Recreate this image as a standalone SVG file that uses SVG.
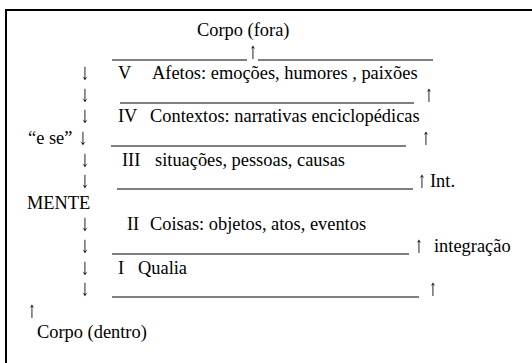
<svg xmlns="http://www.w3.org/2000/svg" width="532" height="363" viewBox="0 0 532 363" font-family="'Liberation Serif', 'Times New Roman', 'DejaVu Serif', serif">
<style>
text{font-family:'Liberation Serif','Times New Roman','DejaVu Serif',serif;font-size:18.4px;fill:#000}
.arr{text-anchor:middle;dominant-baseline:central;font-family:'DejaVu Serif',serif;font-size:14px}
.sep{stroke:#000;stroke-width:1}
.frame{stroke:#000;stroke-width:2;fill:none}
</style>
<rect width="532" height="363" fill="#fff"/>
<g id="frame">
<path class="frame" d="M6 363 V10 H532"/>
</g>
<g id="corpo-fora"><text x="197" y="36">Corpo (fora)</text></g>
<g id="level-V"><text x="118" y="79.2">V</text><text x="152" y="79.2">Afetos: emoções, humores , paixões</text></g>
<g id="level-IV"><text x="118" y="122.4">IV</text><text x="150" y="122.4">Contextos: narrativas enciclopédicas</text></g>
<g id="e-se"><text x="28" y="144">“e se”</text></g>
<g id="level-III"><text x="122" y="165.6">III</text><text x="155" y="165.6">situações, pessoas, causas</text></g>
<g id="int"><text x="430" y="187.2">Int.</text></g>
<g id="mente"><text x="27" y="208.8">MENTE</text></g>
<g id="level-II"><text x="127" y="230.4">II</text><text x="150" y="230.4">Coisas: objetos, atos, eventos</text></g>
<g id="integracao"><text x="434" y="252">integração</text></g>
<g id="level-I"><text x="118" y="273.6">I</text><text x="138" y="273.6">Qualia</text></g>
<g id="corpo-dentro"><text x="37" y="338.4">Corpo (dentro)</text></g>
<g id="separators">
<line class="sep" x1="112" y1="60" x2="247" y2="60"/>
<line class="sep" x1="258" y1="60" x2="433" y2="60"/>
<line class="sep" x1="120" y1="103" x2="414" y2="103"/>
<line class="sep" x1="111" y1="146" x2="406" y2="146"/>
<line class="sep" x1="117" y1="189" x2="413" y2="189"/>
<line class="sep" x1="112" y1="254" x2="409" y2="254"/>
<line class="sep" x1="112" y1="297" x2="419" y2="297"/>
</g>
<g id="connectors" opacity="0.99">
<text class="arr" transform="translate(85,74.2) scale(0.8,1.3)">&#x2193;&#xFE0E;</text>
<text class="arr" transform="translate(85,95.8) scale(0.8,1.3)">&#x2193;&#xFE0E;</text>
<text class="arr" transform="translate(85,117.4) scale(0.8,1.3)">&#x2193;&#xFE0E;</text>
<text class="arr" transform="translate(83,139) scale(0.8,1.3)">&#x2193;&#xFE0E;</text>
<text class="arr" transform="translate(85,160.6) scale(0.8,1.3)">&#x2193;&#xFE0E;</text>
<text class="arr" transform="translate(85,182.2) scale(0.8,1.3)">&#x2193;&#xFE0E;</text>
<text class="arr" transform="translate(85,225.4) scale(0.8,1.3)">&#x2193;&#xFE0E;</text>
<text class="arr" transform="translate(85,247) scale(0.8,1.3)">&#x2193;&#xFE0E;</text>
<text class="arr" transform="translate(85,268.6) scale(0.8,1.3)">&#x2193;&#xFE0E;</text>
<text class="arr" transform="translate(85,290.2) scale(0.8,1.3)">&#x2193;&#xFE0E;</text>
<text class="arr" transform="translate(253,53) scale(0.8,1.3)">&#x2191;&#xFE0E;</text>
<text class="arr" transform="translate(429,95.8) scale(0.8,1.3)">&#x2191;&#xFE0E;</text>
<text class="arr" transform="translate(426,139) scale(0.8,1.3)">&#x2191;&#xFE0E;</text>
<text class="arr" transform="translate(422,182.2) scale(0.8,1.3)">&#x2191;&#xFE0E;</text>
<text class="arr" transform="translate(419,247) scale(0.8,1.3)">&#x2191;&#xFE0E;</text>
<text class="arr" transform="translate(433,290.2) scale(0.8,1.3)">&#x2191;&#xFE0E;</text>
<text class="arr" transform="translate(32,311.8) scale(0.8,1.3)">&#x2191;&#xFE0E;</text>
</g>
</svg>
